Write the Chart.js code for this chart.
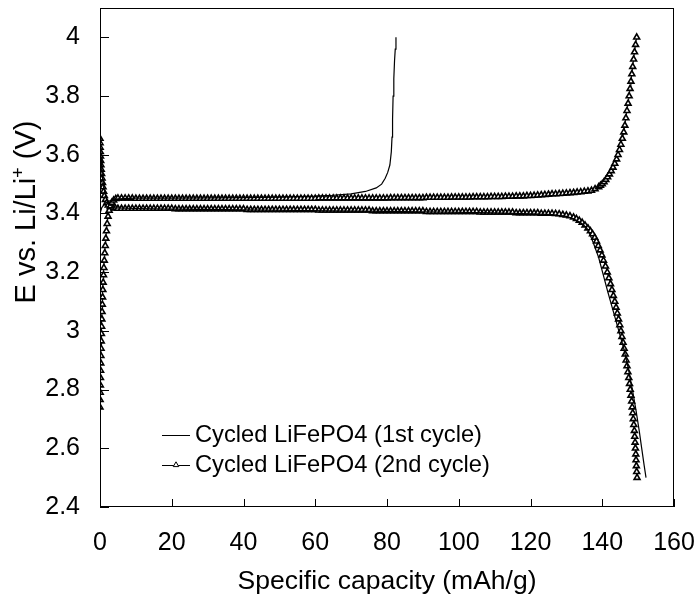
<!DOCTYPE html>
<html><head><meta charset="utf-8">
<script src="https://cdn.jsdelivr.net/npm/chart.js@4/dist/chart.umd.min.js"></script>
<style>html,body{margin:0;padding:0;background:#fff}canvas{display:block}</style>
</head><body>
<canvas id="c" width="700" height="599"></canvas>
<script>
// ---- tick labels / text ----
const xTicks = [0, 20, 40, 60, 80, 100, 120, 140, 160];
const yTicks = [2.4, 2.6, 2.8, 3, 3.2, 3.4, 3.6, 3.8, 4];
const seriesLabels = ['Cycled LiFePO4 (1st cycle)', 'Cycled LiFePO4 (2nd cycle)'];
const xTitle = 'Specific capacity (mAh/g)';
const yTitleParts = ['E vs. Li/Li', '+', ' (V)'];

// ---- 1st cycle (thin line) ----
const c1ChargeCap = [0, 0.5, 1.5, 3, 5, 10, 20, 30, 40, 50, 60, 65, 70, 74, 77, 78.5, 79.5, 80.2, 80.8, 81.2, 81.4, 81.55, 81.7, 81.9, 82.1, 82.3, 82.5];
const c1ChargeV   = [3.40, 3.42, 3.435, 3.445, 3.45, 3.452, 3.452, 3.453, 3.454, 3.456, 3.459, 3.462, 3.467, 3.475, 3.487, 3.50, 3.52, 3.54, 3.565, 3.61, 3.66, 3.72, 3.80, 3.86, 3.92, 3.96, 4.0];

const c1DischargeCap = [0, 0.03, 0.08, 0.15, 0.3, 0.5, 0.8, 1.2, 1.8, 2.6, 4, 10, 20, 35, 50, 65, 80, 95, 110, 120, 126, 130, 132, 134, 135, 136, 137.5, 139, 140.3, 141.5, 143, 144.5, 146, 147.3, 148.4, 149.4, 150.3, 151, 151.7, 152.2];
const c1DischargeV   = [3.77, 3.72, 3.68, 3.64, 3.59, 3.55, 3.51, 3.48, 3.45, 3.43, 3.419, 3.417, 3.415, 3.413, 3.411, 3.409, 3.407, 3.405, 3.402, 3.399, 3.396, 3.39, 3.382, 3.368, 3.358, 3.345, 3.30, 3.25, 3.19, 3.135, 3.07, 3.005, 2.94, 2.87, 2.80, 2.73, 2.66, 2.60, 2.54, 2.50];

// ---- 2nd cycle (line with triangle markers) ----
const c2ChargeCap = [0, 0.03, 0.06, 0.1, 0.13, 0.17, 0.21, 0.25, 0.3, 0.35, 0.4, 0.46, 0.52, 0.58, 0.65, 0.72, 0.8, 0.89, 0.98, 1.08, 1.2, 1.33, 1.47, 1.62, 1.8, 2.0, 2.25, 2.55, 2.9, 3.3, 3.8, 4.4,
 5, 6, 7, 8, 9, 10, 11, 12, 13, 14, 15, 16, 17, 18, 19, 20, 21, 22, 23, 24, 25, 26, 27, 28, 29, 30, 31, 32, 33, 34, 35, 36, 37, 38, 39, 40, 41, 42, 43, 44, 45, 46, 47, 48, 49, 50, 51, 52, 53, 54, 55, 56, 57, 58, 59, 60,
 61, 62, 63, 64, 65, 66, 67, 68, 69, 70, 71, 72, 73, 74, 75, 76, 77, 78, 79, 80, 81, 82, 83, 84, 85, 86, 87, 88, 89, 90, 91, 92, 93, 94, 95, 96, 97, 98, 99, 100, 101, 102, 103, 104, 105, 106, 107, 108, 109, 110,
 111, 112, 113, 114, 115, 116, 117, 118, 119, 120, 121, 122, 123, 124, 125, 126, 127, 128, 129, 130, 131, 132, 133, 134, 135, 136,
 137, 138, 139, 139.5, 140, 140.5, 141, 141.5, 142, 142.5, 143, 143.5, 144, 144.4, 144.8, 145.2, 145.6, 146, 146.3, 146.6, 146.9, 147.2, 147.5, 147.75, 148, 148.25, 148.5, 148.75, 149, 149.3, 149.6];
const c2ChargeV = [2.74, 2.765, 2.79, 2.815, 2.84, 2.865, 2.89, 2.915, 2.94, 2.965, 2.99, 3.015, 3.04, 3.065, 3.09, 3.115, 3.14, 3.165, 3.19, 3.215, 3.24, 3.265, 3.29, 3.315, 3.34, 3.365, 3.39, 3.41, 3.425, 3.437, 3.445, 3.45,
 3.452, 3.452, 3.452, 3.452, 3.452, 3.451, 3.451, 3.451, 3.451, 3.451, 3.451, 3.451, 3.451, 3.451, 3.451, 3.451, 3.451, 3.451, 3.451, 3.451, 3.451, 3.451, 3.451, 3.451, 3.451, 3.451, 3.451, 3.451, 3.451, 3.451, 3.451, 3.451, 3.451, 3.451, 3.451, 3.451, 3.451, 3.451, 3.451, 3.451, 3.451, 3.451, 3.451, 3.451, 3.451, 3.451, 3.451, 3.451, 3.451, 3.451, 3.451, 3.451, 3.451, 3.451, 3.451, 3.451,
 3.452, 3.452, 3.452, 3.452, 3.452, 3.452, 3.452, 3.452, 3.452, 3.452, 3.452, 3.452, 3.452, 3.452, 3.452, 3.452, 3.452, 3.452, 3.452, 3.452, 3.453, 3.453, 3.453, 3.453, 3.453, 3.453, 3.453, 3.453, 3.453, 3.453, 3.454, 3.454, 3.454, 3.454, 3.454, 3.454, 3.454, 3.455, 3.455, 3.455, 3.455, 3.455, 3.455, 3.456, 3.456, 3.456, 3.456, 3.456, 3.457, 3.457,
 3.457, 3.457, 3.458, 3.458, 3.458, 3.459, 3.459, 3.459, 3.46, 3.46, 3.461, 3.462, 3.463, 3.464, 3.465, 3.466, 3.466, 3.467, 3.468, 3.469, 3.47, 3.471, 3.472, 3.473, 3.475, 3.476,
 3.478, 3.483, 3.49, 3.495, 3.50, 3.507, 3.515, 3.524, 3.534, 3.545, 3.557, 3.57, 3.585, 3.60, 3.617, 3.635, 3.655, 3.677, 3.70, 3.725, 3.75, 3.775, 3.80, 3.825, 3.85, 3.875, 3.90, 3.925, 3.95, 3.975, 4.0];

const c2DischargeCap = [0, 0.02, 0.05, 0.09, 0.14, 0.2, 0.27, 0.35, 0.45, 0.57, 0.7, 0.85, 1.02, 1.22, 1.5, 1.85, 2.3, 2.9, 3.6, 4.3,
 5, 6, 7, 8, 9, 10, 11, 12, 13, 14, 15, 16, 17, 18, 19, 20, 21, 22, 23, 24, 25, 26, 27, 28, 29, 30, 31, 32, 33, 34, 35, 36, 37, 38, 39, 40, 41, 42, 43, 44, 45, 46, 47, 48, 49, 50, 51, 52, 53, 54, 55, 56, 57, 58, 59, 60,
 61, 62, 63, 64, 65, 66, 67, 68, 69, 70, 71, 72, 73, 74, 75, 76, 77, 78, 79, 80, 81, 82, 83, 84, 85, 86, 87, 88, 89, 90, 91, 92, 93, 94, 95, 96, 97, 98, 99, 100, 101, 102, 103, 104, 105, 106, 107, 108, 109, 110,
 111, 112, 113, 114, 115, 116, 117, 118, 119, 120, 121, 122, 123, 124, 125, 126, 127, 128, 129, 130, 131,
 132, 132.8, 133.6, 134.4, 135.2, 136, 136.7, 137.3, 137.9, 138.4, 138.9, 139.4, 139.9, 140.35, 140.9, 141.4, 141.85, 142.3, 142.7, 143.1, 143.5, 143.85, 144.2, 144.55, 144.9, 145.2, 145.5, 145.8, 146.1, 146.4,
 146.65, 146.9, 147.15, 147.4, 147.6, 147.8, 148.0, 148.2, 148.35, 148.5, 148.65, 148.8, 148.95, 149.05, 149.15, 149.25, 149.35, 149.42, 149.5, 149.6, 149.7];
const c2DischargeV = [3.655, 3.64, 3.625, 3.61, 3.595, 3.58, 3.565, 3.55, 3.535, 3.52, 3.505, 3.49, 3.475, 3.46, 3.447, 3.436, 3.428, 3.422, 3.419, 3.418,
 3.417, 3.417, 3.417, 3.417, 3.417, 3.417, 3.417, 3.417, 3.417, 3.417, 3.417, 3.417, 3.417, 3.417, 3.417, 3.417, 3.415, 3.415, 3.415, 3.415, 3.415, 3.415, 3.415, 3.415, 3.415, 3.415, 3.415, 3.415, 3.415, 3.415, 3.415, 3.415, 3.415, 3.415, 3.415, 3.415,
 3.413, 3.413, 3.413, 3.413, 3.413, 3.413, 3.413, 3.413, 3.413, 3.413, 3.413, 3.413, 3.413, 3.413, 3.413, 3.413, 3.413, 3.413, 3.413, 3.413,
 3.411, 3.411, 3.411, 3.411, 3.411, 3.411, 3.411, 3.411, 3.411, 3.411, 3.411, 3.411, 3.411, 3.411, 3.411,
 3.408, 3.408, 3.408, 3.408, 3.408, 3.408, 3.408, 3.408, 3.408, 3.408, 3.408, 3.408, 3.408, 3.408, 3.408,
 3.406, 3.406, 3.406, 3.406, 3.406, 3.406, 3.406, 3.406, 3.406, 3.406, 3.406, 3.406, 3.406, 3.406, 3.406,
 3.404, 3.404, 3.404, 3.404, 3.404, 3.404, 3.404, 3.404, 3.404, 3.404, 3.402, 3.402, 3.402, 3.402, 3.402, 3.402, 3.402,
 3.400, 3.400, 3.400, 3.400, 3.399, 3.398, 3.396, 3.394, 3.391,
 3.387, 3.382, 3.376, 3.369, 3.36, 3.35, 3.34, 3.33, 3.318, 3.305, 3.29, 3.275, 3.258, 3.24, 3.22, 3.20, 3.18, 3.16, 3.14, 3.12, 3.10, 3.08, 3.06, 3.04, 3.02, 3.00, 2.98, 2.96, 2.94, 2.92,
 2.90, 2.88, 2.86, 2.84, 2.82, 2.80, 2.78, 2.76, 2.74, 2.72, 2.70, 2.68, 2.66, 2.64, 2.62, 2.60, 2.58, 2.56, 2.54, 2.52, 2.50];

const FONT = '"Liberation Sans", Arial, sans-serif';
const toPts = (cap, v) => cap.map((c, i) => ({ x: c, y: v[i] }));
const thin = (label, cap, v) => ({
  label, data: toPts(cap, v), showLine: true, borderColor: '#000', borderWidth: 1.2,
  pointRadius: 0, tension: 0, fill: false
});
const marked = (label, cap, v) => ({
  label, data: toPts(cap, v), showLine: true, borderColor: '#000', borderWidth: 1,
  pointRadius: 3.4, pointStyle: 'triangle', pointBackgroundColor: '#fff',
  pointBorderColor: '#000', pointBorderWidth: 1.6, tension: 0, fill: false
});

const TRI = { pointStyle: 'triangle', radius: 3.2, borderWidth: 1, rotation: 0 };

const noPad = s => { s.paddingTop = 0; s.paddingBottom = 0; s.paddingLeft = 0; s.paddingRight = 0; };

const decor = {
  id: 'decor',
  afterDraw(chart) {
    const { ctx, chartArea: a, scales: { x, y } } = chart;
    ctx.save();
    ctx.strokeStyle = '#000';
    ctx.lineWidth = 1;
    // frame
    ctx.strokeRect(Math.round(a.left) + 0.5, Math.round(a.top) + 0.5, Math.round(a.right - a.left) - 1, Math.round(a.bottom - a.top) - 1);
    // inward ticks
    ctx.beginPath();
    x.ticks.forEach(t => {
      const px = Math.round(x.getPixelForValue(t.value)) + 0.5;
      ctx.moveTo(px, a.bottom); ctx.lineTo(px, a.bottom - 8);
    });
    y.ticks.forEach(t => {
      const py = Math.round(y.getPixelForValue(t.value)) + 0.5;
      ctx.moveTo(a.left, py); ctx.lineTo(a.left + 9, py);
    });
    ctx.stroke();

    ctx.fillStyle = '#000';
    ctx.textBaseline = 'alphabetic';
    // x title (centred on the plot area)
    ctx.font = '26.5px ' + FONT;
    ctx.textAlign = 'center';
    ctx.fillText(xTitle, (a.left + a.right) / 2, 589);
    // y title with superscript
    ctx.save();
    ctx.translate(35, 212);
    ctx.rotate(-Math.PI / 2);
    ctx.textAlign = 'left';
    const big = '29px ' + FONT, small = '18px ' + FONT;
    ctx.font = big;
    const w1 = ctx.measureText(yTitleParts[0]).width;
    const w3 = ctx.measureText(yTitleParts[2]).width;
    ctx.font = small;
    const w2 = ctx.measureText(yTitleParts[1]).width;
    let xx = -(w1 + w2 + w3) / 2;
    ctx.font = big;
    ctx.fillText(yTitleParts[0], xx, 0); xx += w1;
    ctx.font = small;
    ctx.fillText(yTitleParts[1], xx, -11); xx += w2;
    ctx.font = big;
    ctx.fillText(yTitleParts[2], xx, 0);
    ctx.restore();

    // legend
    ctx.font = '23.7px ' + FONT;
    ctx.textAlign = 'left';
    ctx.beginPath();
    ctx.moveTo(162, 435.5); ctx.lineTo(190, 435.5);
    ctx.moveTo(162, 465.5); ctx.lineTo(190, 465.5);
    ctx.stroke();
    ctx.fillStyle = '#fff';
    Chart.helpers.drawPoint(ctx, TRI, 176, 465);
    ctx.fillStyle = '#000';
    ctx.fillText(seriesLabels[0], 195, 442);
    ctx.fillText(seriesLabels[1], 195, 472);
    ctx.restore();
  }
};

new Chart(document.getElementById('c'), {
  type: 'scatter',
  data: {
    datasets: [
      thin(seriesLabels[0], c1ChargeCap, c1ChargeV),
      thin('', c1DischargeCap, c1DischargeV),
      marked(seriesLabels[1], c2ChargeCap, c2ChargeV),
      marked('', c2DischargeCap, c2DischargeV)
    ]
  },
  options: {
    responsive: false,
    animation: false,
    events: [],
    layout: { padding: { top: 8, right: 26, left: 0, bottom: 0 } },
    plugins: { legend: { display: false }, tooltip: { enabled: false }, title: { display: false } },
    scales: {
      x: {
        type: 'linear', min: 0, max: 160,
        afterBuildTicks: s => { s.ticks = xTicks.map(v => ({ value: v })); },
        afterFit: s => { s.height = 92; noPad(s); },
        grid: { display: false, drawTicks: false },
        border: { display: false },
        ticks: { color: '#000', font: { family: FONT, size: 25 }, padding: 21, maxRotation: 0, autoSkip: false, callback: v => String(v) }
      },
      y: {
        type: 'linear', min: 2.4, max: 4.1,
        afterBuildTicks: s => { s.ticks = yTicks.map(v => ({ value: v })); },
        afterFit: s => { s.width = 100; noPad(s); },
        grid: { display: false, drawTicks: false },
        border: { display: false },
        ticks: { color: '#000', font: { family: FONT, size: 25 }, padding: 20, autoSkip: false, callback: v => String(v) }
      }
    }
  },
  plugins: [decor]
});
</script>
</body></html>
